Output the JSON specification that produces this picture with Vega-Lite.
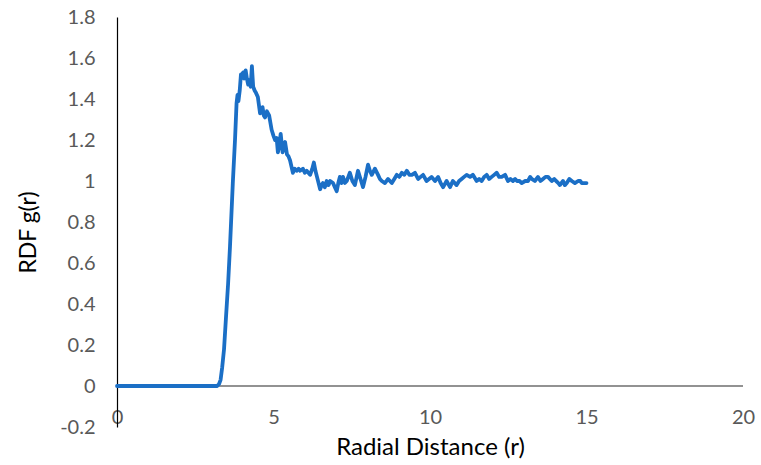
{
  "$schema": "https://vega.github.io/schema/vega-lite/v6.json",
  "width": 626,
  "height": 410,
  "autosize": {"type": "none"},
  "padding": {"left": 117, "top": 17, "right": 18, "bottom": 38},
  "background": "white",
  "config": {
    "view": {"stroke": null},
    "font": "Lato"
  },
  "datasets": {
    "rdf": [
      {"r": 0, "g": 0}, {"r": 1, "g": 0}, {"r": 2, "g": 0}, {"r": 3, "g": 0}, {"r": 3.2, "g": 0},
      {"r": 3.26, "g": 0.01}, {"r": 3.31, "g": 0.03}, {"r": 3.36, "g": 0.09}, {"r": 3.42, "g": 0.18},
      {"r": 3.48, "g": 0.33}, {"r": 3.55, "g": 0.5}, {"r": 3.61, "g": 0.68}, {"r": 3.7, "g": 0.99},
      {"r": 3.77, "g": 1.2}, {"r": 3.82, "g": 1.38}, {"r": 3.85, "g": 1.42}, {"r": 3.88, "g": 1.39},
      {"r": 3.92, "g": 1.44}, {"r": 3.96, "g": 1.52}, {"r": 4.0, "g": 1.51}, {"r": 4.03, "g": 1.53},
      {"r": 4.06, "g": 1.5}, {"r": 4.11, "g": 1.54}, {"r": 4.15, "g": 1.5}, {"r": 4.19, "g": 1.47},
      {"r": 4.23, "g": 1.49}, {"r": 4.27, "g": 1.46}, {"r": 4.31, "g": 1.56}, {"r": 4.35, "g": 1.46},
      {"r": 4.4, "g": 1.44}, {"r": 4.44, "g": 1.43}, {"r": 4.5, "g": 1.41}, {"r": 4.57, "g": 1.33},
      {"r": 4.61, "g": 1.35}, {"r": 4.65, "g": 1.36}, {"r": 4.69, "g": 1.32}, {"r": 4.73, "g": 1.31},
      {"r": 4.79, "g": 1.34}, {"r": 4.86, "g": 1.32}, {"r": 4.94, "g": 1.25}, {"r": 5.0, "g": 1.22},
      {"r": 5.05, "g": 1.2}, {"r": 5.1, "g": 1.21}, {"r": 5.14, "g": 1.14}, {"r": 5.18, "g": 1.17},
      {"r": 5.23, "g": 1.23}, {"r": 5.29, "g": 1.14}, {"r": 5.33, "g": 1.18}, {"r": 5.37, "g": 1.19},
      {"r": 5.43, "g": 1.13}, {"r": 5.48, "g": 1.12}, {"r": 5.53, "g": 1.1}, {"r": 5.62, "g": 1.04},
      {"r": 5.68, "g": 1.06}, {"r": 5.74, "g": 1.05}, {"r": 5.8, "g": 1.06}, {"r": 5.85, "g": 1.05},
      {"r": 5.94, "g": 1.06}, {"r": 6.0, "g": 1.04}, {"r": 6.06, "g": 1.05}, {"r": 6.17, "g": 1.03},
      {"r": 6.24, "g": 1.06}, {"r": 6.29, "g": 1.09}, {"r": 6.34, "g": 1.05}, {"r": 6.39, "g": 1.02},
      {"r": 6.49, "g": 0.96}, {"r": 6.54, "g": 0.98}, {"r": 6.58, "g": 0.99}, {"r": 6.64, "g": 0.97},
      {"r": 6.7, "g": 1.0}, {"r": 6.76, "g": 0.98}, {"r": 6.81, "g": 1.0}, {"r": 6.9, "g": 0.99},
      {"r": 6.96, "g": 0.97}, {"r": 7.02, "g": 0.95}, {"r": 7.07, "g": 0.99}, {"r": 7.12, "g": 1.02},
      {"r": 7.17, "g": 0.99}, {"r": 7.22, "g": 1.02}, {"r": 7.28, "g": 0.99}, {"r": 7.34, "g": 1.0},
      {"r": 7.39, "g": 1.02}, {"r": 7.44, "g": 1.04}, {"r": 7.52, "g": 1.0}, {"r": 7.6, "g": 0.98},
      {"r": 7.7, "g": 1.05}, {"r": 7.78, "g": 1.01}, {"r": 7.86, "g": 0.97}, {"r": 7.94, "g": 1.02},
      {"r": 8.02, "g": 1.08}, {"r": 8.08, "g": 1.05}, {"r": 8.14, "g": 1.03}, {"r": 8.24, "g": 1.06},
      {"r": 8.34, "g": 1.03}, {"r": 8.4, "g": 1.01}, {"r": 8.46, "g": 1.0}, {"r": 8.56, "g": 0.99},
      {"r": 8.66, "g": 1.01}, {"r": 8.72, "g": 1.0}, {"r": 8.78, "g": 0.99}, {"r": 8.86, "g": 1.01},
      {"r": 8.94, "g": 1.03}, {"r": 9.02, "g": 1.02}, {"r": 9.1, "g": 1.04}, {"r": 9.18, "g": 1.03},
      {"r": 9.26, "g": 1.05}, {"r": 9.34, "g": 1.03}, {"r": 9.42, "g": 1.03}, {"r": 9.52, "g": 1.04},
      {"r": 9.62, "g": 1.01}, {"r": 9.7, "g": 1.02}, {"r": 9.78, "g": 1.03}, {"r": 9.89, "g": 1.0},
      {"r": 9.97, "g": 1.01}, {"r": 10.05, "g": 1.02}, {"r": 10.16, "g": 1.0}, {"r": 10.26, "g": 1.02},
      {"r": 10.34, "g": 0.99}, {"r": 10.42, "g": 0.97}, {"r": 10.53, "g": 1.0}, {"r": 10.64, "g": 0.97},
      {"r": 10.73, "g": 1.0}, {"r": 10.85, "g": 0.98}, {"r": 10.93, "g": 1.0}, {"r": 11.01, "g": 1.01},
      {"r": 11.09, "g": 1.02}, {"r": 11.17, "g": 1.03}, {"r": 11.28, "g": 1.02}, {"r": 11.37, "g": 1.03},
      {"r": 11.49, "g": 1.0}, {"r": 11.57, "g": 1.01}, {"r": 11.65, "g": 1.0}, {"r": 11.73, "g": 1.02},
      {"r": 11.81, "g": 1.03}, {"r": 11.89, "g": 1.01}, {"r": 11.97, "g": 1.02}, {"r": 12.05, "g": 1.03},
      {"r": 12.13, "g": 1.04}, {"r": 12.21, "g": 1.02}, {"r": 12.29, "g": 1.02}, {"r": 12.4, "g": 1.03},
      {"r": 12.49, "g": 1.0}, {"r": 12.57, "g": 1.01}, {"r": 12.65, "g": 1.0}, {"r": 12.72, "g": 1.01},
      {"r": 12.78, "g": 1.0}, {"r": 12.86, "g": 1.0}, {"r": 12.93, "g": 0.99}, {"r": 13.04, "g": 1.0},
      {"r": 13.13, "g": 1.0}, {"r": 13.2, "g": 1.02}, {"r": 13.25, "g": 1.01}, {"r": 13.35, "g": 1.0},
      {"r": 13.45, "g": 1.02}, {"r": 13.53, "g": 1.0}, {"r": 13.61, "g": 1.01}, {"r": 13.69, "g": 1.02},
      {"r": 13.77, "g": 1.02}, {"r": 13.83, "g": 1.01}, {"r": 13.89, "g": 1.0}, {"r": 13.97, "g": 1.01},
      {"r": 14.03, "g": 1.0}, {"r": 14.1, "g": 0.99}, {"r": 14.15, "g": 0.98}, {"r": 14.25, "g": 1.0},
      {"r": 14.31, "g": 0.98}, {"r": 14.37, "g": 0.99}, {"r": 14.45, "g": 1.01}, {"r": 14.53, "g": 1.0},
      {"r": 14.63, "g": 0.99}, {"r": 14.73, "g": 1.0}, {"r": 14.8, "g": 1.0}, {"r": 14.85, "g": 0.99},
      {"r": 14.92, "g": 0.99}, {"r": 15.0, "g": 0.99}
    ],
    "zero": [{"y": 0}]
  },
  "layer": [
    {
      "data": {"name": "zero"},
      "mark": {"type": "rule", "color": "#262626", "strokeWidth": 1.2},
      "encoding": {
        "y": {"field": "y", "type": "quantitative", "scale": {"domain": [-0.2, 1.8]}}
      }
    },
    {
      "data": {"name": "rdf"},
      "mark": {"type": "line", "color": "#1b6fc6", "strokeWidth": 3.8, "strokeJoin": "round", "strokeCap": "round"},
      "encoding": {
        "x": {
          "field": "r",
          "type": "quantitative",
          "scale": {"domain": [0, 20], "nice": false, "zero": false},
          "axis": {
            "values": [0, 5, 10, 15, 20],
            "grid": false,
            "domain": false,
            "ticks": false,
            "tickSize": 0,
            "labelFlush": false,
            "labelOverlap": false,
            "labelBaseline": "middle",
            "labelPadding": -10,
            "labelFontSize": 20,
            "labelColor": "#595959",
            "labelFont": "Lato",
            "title": "Radial Distance (r)",
            "titleFont": "Lato",
            "titleFontSize": 24,
            "titleFontWeight": "normal",
            "titleColor": "#000000",
            "titleX": 313,
            "titleY": 20,
            "titleBaseline": "middle"
          }
        },
        "y": {
          "field": "g",
          "type": "quantitative",
          "scale": {"domain": [-0.2, 1.8], "nice": false, "zero": false},
          "axis": {
            "values": [-0.2, 0, 0.2, 0.4, 0.6, 0.8, 1, 1.2, 1.4, 1.6, 1.8],
            "labelExpr": "replace(format(datum.value, '.1~f'), '\u2212', '-')",
            "grid": false,
            "domain": true,
            "domainColor": "#000000",
            "domainWidth": 1.2,
            "ticks": false,
            "tickSize": 0,
            "labelFlush": false,
            "labelOverlap": false,
            "labelPadding": 22,
            "labelFontSize": 20,
            "labelColor": "#595959",
            "labelFont": "Lato",
            "title": "RDF g(r)",
            "titleFont": "Lato",
            "titleFontSize": 23,
            "titleFontWeight": "normal",
            "titleColor": "#000000",
            "titleX": -89,
            "titleY": 215,
            "titleBaseline": "middle"
          }
        }
      }
    }
  ]
}
